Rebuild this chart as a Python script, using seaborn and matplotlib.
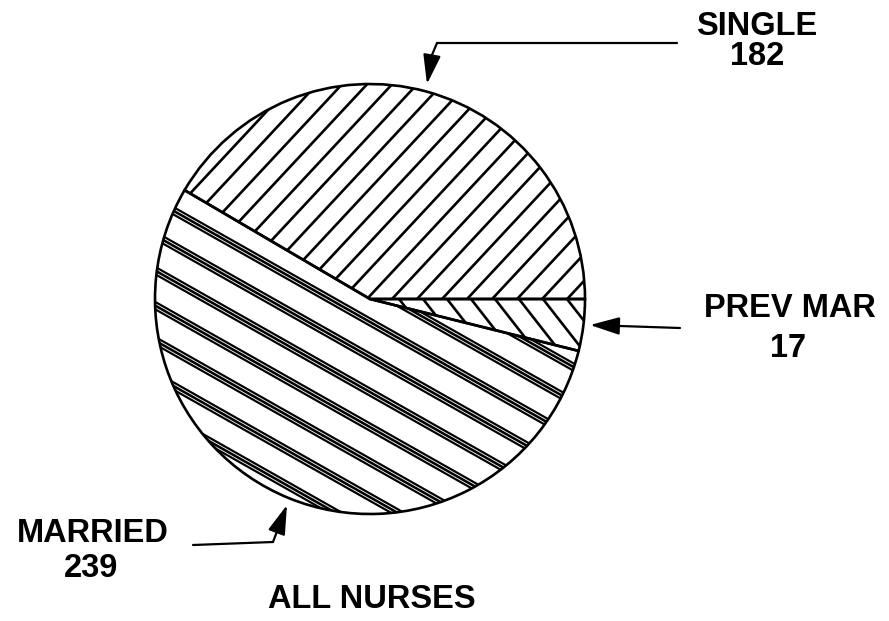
import numpy as np
import matplotlib
matplotlib.use("Agg")
import matplotlib.pyplot as plt
import seaborn as sns

# Marital status of all nurses
categories = ["SINGLE", "MARRIED", "PREV MAR"]
counts = [182, 239, 17]
title = "ALL NURSES"

sns.set_theme(style="white")
plt.rcParams["font.family"] = ["Liberation Sans", "DejaVu Sans"]

W, H = 889, 621
fig = plt.figure(figsize=(W / 100, H / 100), dpi=100)
ax = fig.add_axes([0, 0, 1, 1])

center = np.array([370.0, 322.0])
radius = 215.0

wedges, _ = ax.pie(
    counts,
    startangle=0,
    counterclock=True,
    center=tuple(center),
    radius=radius,
    wedgeprops=dict(facecolor="none", edgecolor="black", linewidth=1.9, zorder=3),
)
ax.set_xlim(0, W)
ax.set_ylim(0, H)
ax.set_aspect("equal")
ax.axis("off")


def line_family(angle, spacing, phase):
    """Yield (point, direction, normal) for parallel lines covering the pie."""
    a = np.deg2rad(angle)
    u = np.array([np.cos(a), np.sin(a)])
    n = np.array([-np.sin(a), np.cos(a)])
    kmax = int(radius / spacing) + 3
    for k in range(-kmax, kmax + 1):
        d = phase + k * spacing
        yield center + n * d, u, n


def plain_hatch(wedge, angle, spacing, phase, lw=1.9):
    for p, u, n in line_family(angle, spacing, phase):
        p0, p1 = p - u * radius * 1.2, p + u * radius * 1.2
        (ln,) = ax.plot([p0[0], p1[0]], [p0[1], p1[1]], color="black",
                        lw=lw, solid_capstyle="butt", zorder=2)
        ln.set_clip_path(wedge)


def band_hatch(wedge, angle, spacing, phase):
    for p, u, n in line_family(angle, spacing, phase):
        p0, p1 = p - u * radius * 1.2, p + u * radius * 1.2
        (ln,) = ax.plot([p0[0], p1[0]], [p0[1], p1[1]], color="black",
                        lw=6.2, solid_capstyle="butt", zorder=2)
        ln.set_clip_path(wedge)
        for off in (-1.7, 1.7):
            q0, q1 = p0 + n * off, p1 + n * off
            (wl,) = ax.plot([q0[0], q1[0]], [q0[1], q1[1]], color="white",
                            lw=0.6, solid_capstyle="butt", zorder=2.1)
            wl.set_clip_path(wedge)


plain_hatch(wedges[0], 47, 18.3, 2.2)
band_hatch(wedges[1], -29.5, 30.5, -20.0)
plain_hatch(wedges[2], -52, 18.9, 4.0)

# Labels
font = dict(fontsize=23.5, fontweight="bold", color="black", ha="center", va="baseline")
ax.text(757, 586, categories[0], **font)
ax.text(757, 556, str(counts[0]), **font)
ax.text(790, 304, categories[2], **font)
ax.text(788, 264, str(counts[2]), **font)
ax.text(93, 79, categories[1], **font)
ax.text(91, 44, str(counts[1]), **font)
ax.text(372, 13, title, **font)


def leader(points):
    pts = np.array(points, dtype=float)
    ax.plot(pts[:-1, 0], pts[:-1, 1], color="black", lw=1.6,
            solid_joinstyle="miter", zorder=4)
    ax.annotate("", xy=tuple(pts[-1]), xytext=tuple(pts[-2]),
                arrowprops=dict(arrowstyle="-|>,head_length=1.0,head_width=0.3",
                                mutation_scale=18, color="black", lw=1.6,
                                shrinkA=0, shrinkB=0), zorder=4)


leader([(677, 578), (437, 578), (432, 566), (427, 537)])
leader([(680, 293), (590, 296)])
leader([(193, 76), (273, 79), (287, 116)])

fig.savefig("out.png", dpi=100, facecolor="white")
